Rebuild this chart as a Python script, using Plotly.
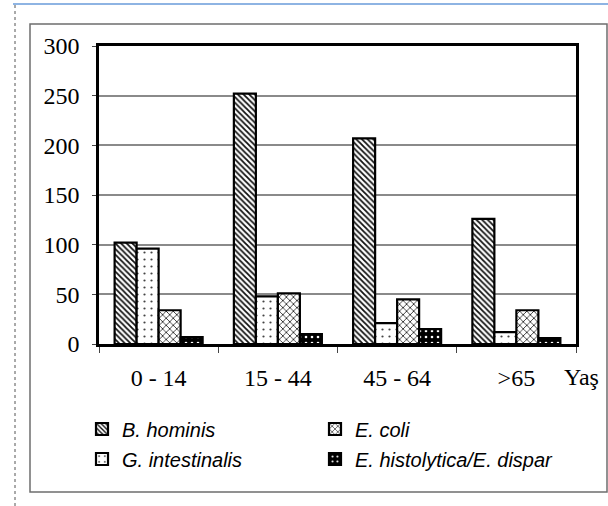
import plotly.graph_objects as go

categories = ["0 - 14", "15 - 44", "45 - 64", ">65"]
b_hominis = [102, 252, 207, 126]
g_intestinalis = [96, 48, 21, 12]
e_coli = [34, 51, 45, 34]
e_histolytica = [7, 10, 15, 6]

W, H = 608, 506
L, R, T, B = 99, 576, 46, 344  # plot area in pixels


def px(x):
    return (x - L) / (R - L)


def py(y):
    return (B - y) / (B - T)


series = [
    ("B. hominis", b_hominis, dict(shape="\\", fgcolor="#111", bgcolor="white", size=4, solidity=0.45), "legend"),
    ("G. intestinalis", g_intestinalis, dict(shape=".", fgcolor="#444", bgcolor="white", size=7, solidity=0.08), "legend3"),
    ("E. coli", e_coli, dict(shape="x", fgcolor="#222", bgcolor="white", size=5, solidity=0.3), "legend2"),
    ("E. histolytica/E. dispar", e_histolytica, dict(shape=".", fgcolor="white", bgcolor="black", size=6, solidity=0.15), "legend4"),
]

fig = go.Figure()
for name, vals, pat, leg in series:
    fig.add_trace(go.Bar(
        x=categories, y=vals, name=name, legend=leg,
        marker=dict(color=pat["bgcolor"], pattern=dict(fillmode="replace", **pat),
                    line=dict(color="black", width=2.2)),
    ))

legfont = dict(family="Liberation Sans, Arial", size=20, color="black", style="italic")
leg_common = dict(xanchor="left", yanchor="middle", bgcolor="rgba(0,0,0,0)", font=legfont,
                  borderwidth=0, itemwidth=30)

fig.update_layout(
    width=W, height=H,
    margin=dict(l=L, r=W - R, t=T, b=H - B),
    paper_bgcolor="white", plot_bgcolor="white",
    barmode="group", bargap=0.262, bargroupgap=0,
    showlegend=True,
    legend=dict(x=px(82), y=py(429), **leg_common),
    legend2=dict(x=px(315), y=py(429), **leg_common),
    legend3=dict(x=px(82), y=py(459), **leg_common),
    legend4=dict(x=px(315), y=py(459), **leg_common),
    xaxis=dict(
        type="category", showline=True, linecolor="black", linewidth=2.5, mirror=True,
        ticks="outside", tickson="boundaries", ticklen=6, tickcolor="#444", tickwidth=1,
        tickfont=dict(family="Liberation Serif, Times New Roman", size=24, color="black"),
        ticklabelstandoff=10, showgrid=False,
    ),
    yaxis=dict(
        range=[0, 300], tickvals=[0, 50, 100, 150, 200, 250, 300],
        showline=True, linecolor="black", linewidth=2.5, mirror=True,
        ticks="outside", ticklen=4, tickcolor="#444", tickwidth=1,
        tickfont=dict(family="Liberation Serif, Times New Roman", size=24, color="black"),
        ticklabelstandoff=8,
        showgrid=True, gridcolor="#8a8a8a", gridwidth=1.5, zeroline=False,
    ),
    annotations=[dict(
        text="Yaş", x=px(581), y=py(377), xref="paper", yref="paper",
        showarrow=False, xanchor="center", yanchor="middle",
        font=dict(family="Liberation Serif, Times New Roman", size=24, color="black"),
    )],
    shapes=[
        dict(type="rect", xref="paper", yref="paper", x0=px(30), x1=px(607), y0=py(492), y1=py(24),
             line=dict(color="#6e6e6e", width=1.5), layer="below"),
        dict(type="line", xref="paper", yref="paper", x0=px(13), x1=px(608), y0=py(4), y1=py(4),
             line=dict(color="#8eb4e3", width=2)),
        dict(type="line", xref="paper", yref="paper", x0=px(15), x1=px(15), y0=py(506), y1=py(5),
             line=dict(color="#555555", width=1, dash="dot")),
    ],
)

fig.write_html("out.html", config={"displayModeBar": False},
               post_script="document.body.style.margin='0';document.body.style.overflow='hidden';")
